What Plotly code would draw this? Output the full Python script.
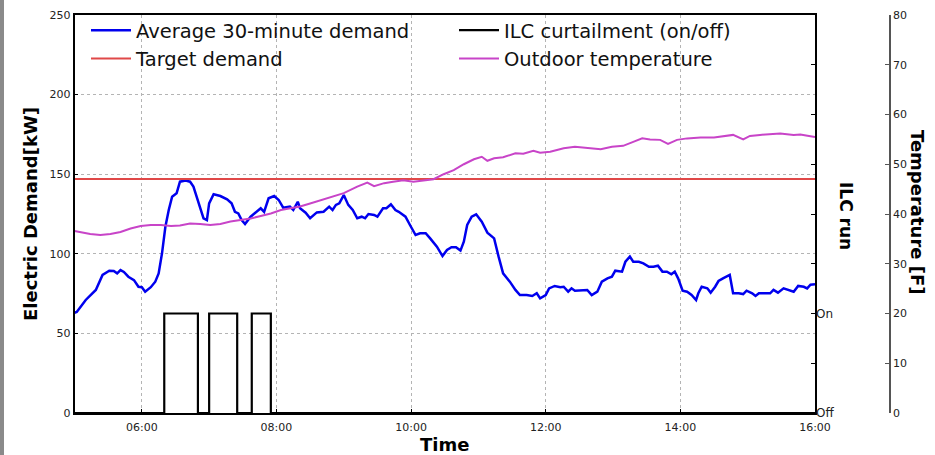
import plotly.graph_objects as go

DAY = "2016-07-01 "

demand_times = ["05:00","05:02","05:10","05:19","05:25","05:31","05:35","05:38","05:41","05:44","05:48","05:53","05:57",
    "06:00","06:03","06:08","06:12","06:15","06:18","06:21","06:24","06:27","06:31","06:34","06:39","06:43","06:46","06:49",
    "06:52","06:55","06:58","07:00","07:04","07:10","07:16","07:20","07:23","07:26","07:29","07:32","07:37","07:41","07:46",
    "07:49","07:53","07:58","08:02","08:06","08:12","08:15","08:19","08:21","08:26","08:30","08:36","08:42","08:47","08:50",
    "08:53","08:56","09:00","09:04","09:08","09:12","09:16","09:19","09:22","09:27","09:30","09:35","09:38","09:42","09:46",
    "09:49","09:55","09:59","10:04","10:08","10:13","10:17","10:23","10:28","10:32","10:36","10:40","10:44","10:47","10:50",
    "10:54","10:58","11:03","11:08","11:14","11:18","11:22","11:28","11:33","11:37","11:43","11:48","11:52","11:55","12:00",
    "12:03","12:08","12:13","12:16","12:20","12:23","12:26","12:32","12:37","12:41","12:46","12:50","12:55","12:59","13:02",
    "13:08","13:11","13:15","13:18","13:23","13:27","13:32","13:36","13:40","13:44","13:48","13:52","13:55","13:58","14:02",
    "14:06","14:10","14:14","14:16","14:19","14:24","14:27","14:31","14:34","14:38","14:44","14:47","14:52","14:56","14:59",
    "15:04","15:07","15:10","15:14","15:20","15:23","15:27","15:32","15:36","15:41","15:45","15:50","15:53","15:56","16:00"]
demand_kw = [63,63.5,71,77.3,86.7,89.4,89.2,87.7,89.8,88.6,85.6,83.5,79.3,
    79,76.2,79,82.5,87.7,100.3,117,127.5,135.9,138,145.3,146,145.3,142.2,135.9,
    128.6,122.3,121.2,131.7,137.4,136.3,134.2,131.7,126.4,125.4,121.2,118.7,123.3,125.8,128.6,
    126.4,134.9,136.3,133.8,129,129.6,127.5,132.7,128.6,125.8,122.3,126,126.4,129.6,127.5,
    130.7,131.7,136.9,130.7,127.5,122.3,123.3,122.3,125,124.4,123.3,128.6,128.6,131.1,127.5,
    126.4,123.3,118.1,111.8,112.9,112.9,109.7,104.5,98.6,102.4,104.1,104.1,102,107.6,118.1,
    123.3,124.8,120.2,113.3,109.7,98.2,87.7,82.5,77.3,74.1,74.1,73.5,75.2,72,74.1,
    78.3,79.8,79,79.3,76.2,78.3,76.8,77.3,77.3,74.1,76.2,82.5,84.6,85.6,89.4,
    88.8,95,98.2,95,95,94,91.9,91.9,92.5,88.8,88.8,87.1,88.8,84.6,76.8,
    76.2,74.1,71,75.2,79.3,78.3,75.6,79.3,82.9,84.6,86.7,75.2,75.2,74.7,76.8,
    75.2,73.5,75.2,75.2,75.2,77.3,75.6,78.3,77.3,76.2,79.8,79.3,78.3,80.6,80.8]

target_times = ["05:00", "16:00"]
target_kw = [147, 147]

ilc_times = ["05:00","06:20","06:50","07:00","07:25","07:38","07:55","16:00"]
ilc_state = [0, 1, 0, 1, 0, 1, 0, 0]

temp_times = ["05:00","05:05","05:14","05:23","05:32","05:41","05:50","05:59","06:08","06:17","06:26","06:34","06:43",
    "06:52","07:01","07:10","07:19","07:28","07:37","07:46","07:55","08:04","08:12","08:21","08:30","08:39","08:51",
    "09:00","09:12","09:21","09:27","09:36","09:44","09:53","10:02","10:11","10:20","10:29","10:38","10:47","10:56",
    "11:03","11:08","11:14","11:22","11:33","11:40","11:49","11:55","12:04","12:16","12:26","12:37","12:49","12:59",
    "13:09","13:18","13:26","13:33","13:42","13:49","13:57","14:06","14:18","14:30","14:38","14:47","14:56","15:02",
    "15:11","15:20","15:29","15:41","15:47","15:52","16:00"]
temp_f = [36.6,36.4,36,35.8,36,36.4,37.1,37.6,37.8,37.8,37.6,37.7,38.1,
    38,37.8,38,38.5,38.8,39.1,39.6,40.1,40.8,41.1,41.5,42.1,42.7,43.5,
    44.2,45.5,46.3,45.6,46.2,46.5,46.8,46.5,46.7,47,48,48.8,50,51,
    51.5,50.7,51.2,51.4,52.2,52.1,52.7,52.3,52.5,53.2,53.5,53.2,53,53.5,
    53.7,54.5,55.2,55,54.9,54.1,54.9,55.2,55.4,55.4,55.6,55.9,55,55.7,
    55.9,56,56.2,55.9,56,55.8,55.5]

ilc_tickvals = [0, 0.5, 1, 1.5, 2, 2.5, 3, 3.5, 4]
ilc_ticktext = ["Off", "", "On", "", "", "", "", "", ""]

def ts(lst):
    return [DAY + t for t in lst]

W, H = 935, 455
L, R, T, B = 74.5, 815, 15, 413
FONT = "DejaVu Sans"

fig = go.Figure()
fig.add_trace(go.Scatter(x=ts(demand_times), y=demand_kw, mode="lines", name="Average 30-minute demand",
                         line=dict(color="#0000ee", width=2.5), legendrank=1))
fig.add_trace(go.Scatter(x=ts(target_times), y=target_kw, mode="lines", name="Target demand",
                         line=dict(color="#e04848", width=2), legendrank=3))
fig.add_trace(go.Scatter(x=ts(ilc_times), y=ilc_state, mode="lines", name="ILC curtailment (on/off)",
                         line=dict(color="black", width=2.2, shape="hv"), yaxis="y2", legendrank=2))
fig.add_trace(go.Scatter(x=ts(temp_times), y=temp_f, mode="lines", name="Outdoor temperature",
                         line=dict(color="#c844c8", width=2), yaxis="y3", legendrank=4))

xd = [L / W, R / W]
yd = [1 - B / H, 1 - T / H]
tickfont = dict(family=FONT, size=11, color="#222")

fig.update_layout(
    width=W, height=H,
    margin=dict(l=0, r=0, t=0, b=0, pad=0),
    paper_bgcolor="white", plot_bgcolor="white",
    font=dict(family=FONT, color="#111"),
    xaxis=dict(domain=xd, type="date", range=[DAY + "05:00", DAY + "16:00"], dtick=7200000,
               tickformat="%H:%M", showgrid=True, gridcolor="#b4b4b4", griddash="dot", gridwidth=1,
               showline=True, mirror=True, linecolor="black", linewidth=1.5,
               ticks="inside", ticklen=4, tickcolor="black", tickfont=tickfont, zeroline=False,
               ticklabelstandoff=3, automargin=False),
    yaxis=dict(domain=yd, range=[0, 250], dtick=50, showgrid=True, gridcolor="#b4b4b4", griddash="dot",
               showline=True, mirror=True, linecolor="black", linewidth=1.5,
               ticks="inside", ticklen=4, tickcolor="black", tickfont=tickfont, zeroline=False,
               automargin=False),
    yaxis2=dict(overlaying="y", side="right", anchor="x", range=[0, 4], tickvals=ilc_tickvals,
                ticktext=ilc_ticktext, ticks="inside", ticklen=4, tickcolor="black",
                showgrid=False, showline=False, zeroline=False,
                tickfont=dict(family=FONT, size=12, color="#222"), automargin=False),
    yaxis3=dict(overlaying="y", side="right", anchor="free", position=890 / W, range=[0, 80], dtick=10,
                ticks="inside", ticklen=4, tickcolor="#555", showline=True, linecolor="#555", linewidth=1.5,
                showgrid=False, zeroline=False, tickfont=tickfont, automargin=False),
    legend=dict(orientation="h", x=86 / W, y=1 - 11 / H, xanchor="left", yanchor="top",
                entrywidth=313, entrywidthmode="pixels", bgcolor="rgba(0,0,0,0)",
                font=dict(family=FONT, size=19.5, color="#111"), tracegroupgap=0, itemwidth=40),
    showlegend=True,
)

fig.add_shape(type="rect", xref="paper", yref="paper", x0=0, x1=4 / W, y0=0, y1=1,
              fillcolor="#8a8a8a", line=dict(width=0), layer="below")

fig.add_annotation(text="<b>Electric Demand[kW]</b>", xref="paper", yref="paper", x=30 / W, y=1 - 214 / H,
                   textangle=-90, showarrow=False, font=dict(family=FONT, size=18, color="black"),
                   xanchor="center", yanchor="middle")
fig.add_annotation(text="<b>Time</b>", xref="paper", yref="paper", x=(L + R) / 2 / W, y=1 - 444 / H,
                   showarrow=False, font=dict(family=FONT, size=18, color="black"),
                   xanchor="center", yanchor="middle")
fig.add_annotation(text="<b>ILC run</b>", xref="paper", yref="paper", x=846 / W, y=1 - 216 / H,
                   textangle=90, showarrow=False, font=dict(family=FONT, size=17, color="black"),
                   xanchor="center", yanchor="middle")
fig.add_annotation(text="<b>Temperature [F]</b>", xref="paper", yref="paper", x=918 / W, y=1 - 212 / H,
                   textangle=90, showarrow=False, font=dict(family=FONT, size=18, color="black"),
                   xanchor="center", yanchor="middle")

fig.write_html("out.html")
